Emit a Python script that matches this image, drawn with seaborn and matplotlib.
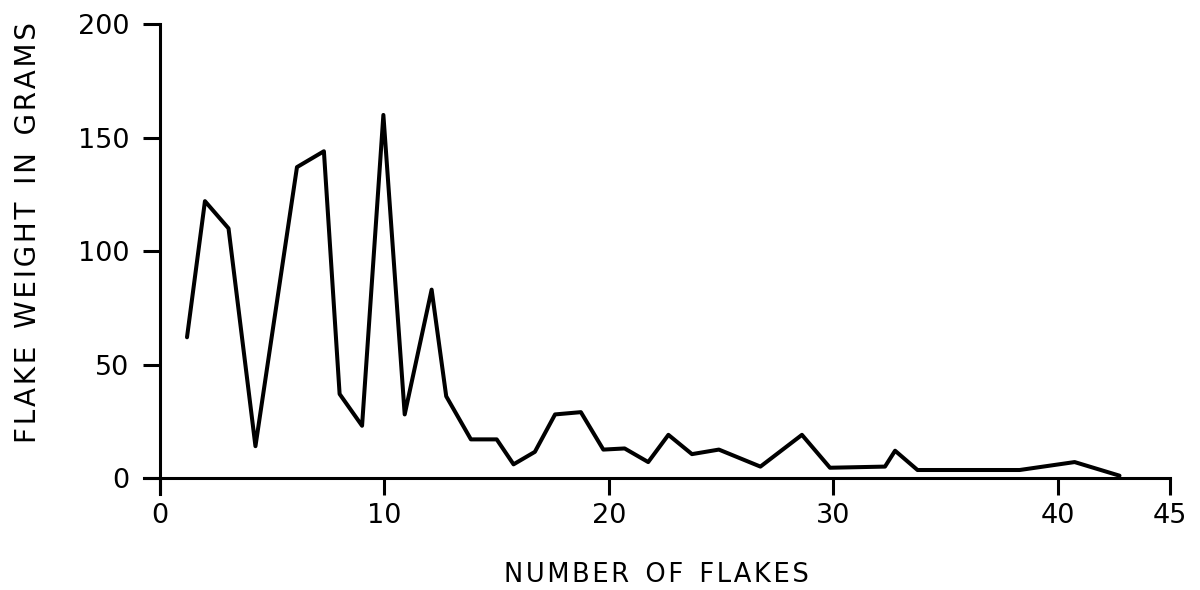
import seaborn as sns
import pandas as pd
import matplotlib.pyplot as plt

# values (number of flakes vs flake weight)
num_flakes = [1.2, 2.0, 3.05, 4.25, 6.1, 7.3, 8.0, 9.0, 9.95, 10.9, 12.1, 12.75,
              13.85, 15.0, 15.75, 16.7, 17.6, 18.75, 19.75, 20.7, 21.75, 22.65,
              23.7, 24.9, 26.75, 28.6, 29.85, 32.3, 32.75, 33.75, 38.3, 40.75, 42.75]
weight_g = [62, 122, 110, 14, 137, 144, 37, 23, 160, 28, 83, 36,
            17, 17, 6, 11.5, 28, 29, 12.5, 13, 7, 19,
            10.5, 12.5, 5, 19, 4.5, 5, 12, 3.5, 3.5, 7, 1]

x_ticks = [0, 10, 20, 30, 40, 45]
y_ticks = [0, 50, 100, 150, 200]


def spaced(text, gap="  "):
    # stencil lettering is wide, so put a hair space between letters
    return gap.join("\u200a".join(w) for w in text.split())


sns.set_style("ticks")
plt.rcParams['font.family'] = ['DejaVu Sans']
plt.rcParams['text.color'] = 'black'
plt.rcParams['xtick.color'] = 'black'
plt.rcParams['ytick.color'] = 'black'
plt.rcParams['axes.labelcolor'] = 'black'
plt.rcParams['axes.edgecolor'] = 'black'

fig = plt.figure(figsize=(12, 5.9), dpi=100)
fig.subplots_adjust(left=0.1203, right=0.975, bottom=0.163, top=0.959)
ax = fig.add_subplot(111)

df = pd.DataFrame({"x": num_flakes, "y": weight_g})
sns.lineplot(data=df, x="x", y="y", sort=False, estimator=None,
             color="black", linewidth=2.9, ax=ax)

ax.set_xlim(-0.7, 45)
ax.set_ylim(-7, 200)
ax.spines['top'].set_visible(False)
ax.spines['right'].set_visible(False)
ax.spines['left'].set_position(('data', 0))
ax.spines['bottom'].set_position(('data', 0))
ax.spines['left'].set_linewidth(2.2)
ax.spines['bottom'].set_linewidth(2.2)

ax.set_xticks(x_ticks)
ax.set_yticks(y_ticks)
ax.tick_params(axis='y', direction='out', length=12, width=2.2, pad=10, labelsize=19.5)
ax.tick_params(axis='x', direction='out', length=12, width=2.2, pad=6, labelsize=19.5)

ax.set_xlabel(spaced("NUMBER OF FLAKES"), fontsize=18.5)
ax.set_ylabel(spaced("FLAKE WEIGHT IN GRAMS"), fontsize=20)
ax.xaxis.set_label_coords(0.499, -0.145)
ax.yaxis.set_label_coords(-0.0997, 0.557)

plt.savefig("out.png", dpi=100)
